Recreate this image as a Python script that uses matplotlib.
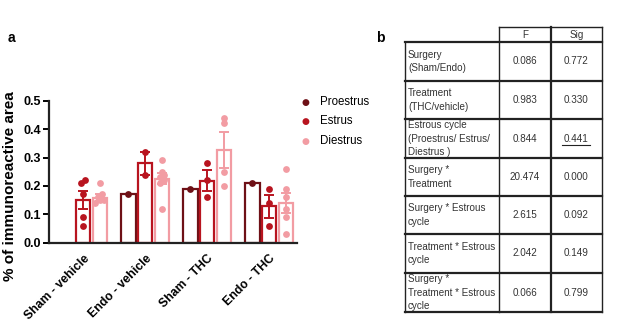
import matplotlib.pyplot as plt
import numpy as np

groups = ["Sham - vehicle", "Endo - vehicle", "Sham - THC", "Endo - THC"]
phases = ["Proestrus", "Estrus", "Diestrus"]
colors = ["#6e1016", "#b8141f", "#f29ca3"]

# bar means / SEM (None = no bar)
proestrus_mean = [None, 0.17, 0.19, 0.21]
estrus_mean = [0.15, 0.28, 0.218, 0.128]
diestrus_mean = [0.158, 0.225, 0.326, 0.139]
proestrus_sem = [None, 0.0, 0.0, 0.0]
estrus_sem = [0.033, 0.04, 0.037, 0.04]
diestrus_sem = [0.012, 0.02, 0.063, 0.035]

proestrus_pts = [[], [0.17], [0.19], [0.21]]
estrus_pts = [[0.22, 0.21, 0.17, 0.09, 0.06], [0.32, 0.24], [0.28, 0.22, 0.16], [0.19, 0.14, 0.06]]
diestrus_pts = [[0.21, 0.17, 0.16, 0.15, 0.15, 0.14],
                [0.29, 0.25, 0.24, 0.23, 0.22, 0.21, 0.12],
                [0.44, 0.42, 0.25, 0.20],
                [0.26, 0.19, 0.16, 0.12, 0.09, 0.03]]

table_rows = ["Surgery\n(Sham/Endo)", "Treatment\n(THC/vehicle)",
              "Estrous cycle\n(Proestrus/ Estrus/\nDiestrus )", "Surgery *\nTreatment",
              "Surgery * Estrous\ncycle", "Treatment * Estrous\ncycle",
              "Surgery *\nTreatment * Estrous\ncycle"]
f_vals = ["0.086", "0.983", "0.844", "20.474", "2.615", "2.042", "0.066"]
sig_vals = ["0.772", "0.330", "0.441", "0.000", "0.092", "0.149", "0.799"]

W, H = 617, 328
fig = plt.figure(figsize=(W / 100, H / 100), dpi=100)
ax = fig.add_axes([49 / W, 1 - 242.7 / H, 248 / W, 142 / H])

means = [proestrus_mean, estrus_mean, diestrus_mean]
sems = [proestrus_sem, estrus_sem, diestrus_sem]
pts = [proestrus_pts, estrus_pts, diestrus_pts]
offsets = [-0.27, 0.0, 0.27]
bw = 0.235


def swarm(vals):
    # small horizontal spread for points with close values
    order = sorted(range(len(vals)), key=lambda k: vals[k])
    off = [0.0] * len(vals)
    i = 0
    while i < len(order):
        j = i
        while j + 1 < len(order) and vals[order[j + 1]] - vals[order[i]] < 0.018:
            j += 1
        n = j - i + 1
        for k in range(n):
            off[order[i + k]] = (k - (n - 1) / 2) * 0.075
        i = j + 1
    return off


for p in range(3):
    for g in range(4):
        m = means[p][g]
        if m is None:
            continue
        x = g + offsets[p]
        ax.bar(x, m, width=bw, facecolor="white", edgecolor=colors[p], linewidth=1.6, zorder=2)
        if sems[p][g] > 0:
            ax.errorbar(x, m, yerr=sems[p][g], color=colors[p], capsize=3.5, capthick=1.4,
                        elinewidth=1.4, zorder=4)
        vals = pts[p][g]
        off = swarm(vals)
        ax.scatter([x + o for o in off], vals, s=24, color=colors[p], zorder=5, linewidths=0)

bold = dict(family="Liberation Sans", fontweight="bold")
ax.set_xlim(-0.55, 3.45)
ax.set_ylim(0, 0.5)
ax.set_yticks([0, 0.1, 0.2, 0.3, 0.4, 0.5])
ax.set_yticklabels(["0.0", "0.1", "0.2", "0.3", "0.4", "0.5"], fontsize=9, **bold)
ax.set_xticks(range(4))
ax.set_xticklabels(groups, rotation=45, ha="right", rotation_mode="anchor", fontsize=8.8, **bold)
ax.tick_params(axis="x", length=0, pad=7)
ax.tick_params(axis="y", width=1.4, length=4, pad=2)
ax.set_ylabel("% of immunoreactive area", fontsize=11, **bold)
ax.yaxis.set_label_coords(-0.128, 0.40)
for s in ["top", "right"]:
    ax.spines[s].set_visible(False)
for s in ["left", "bottom"]:
    ax.spines[s].set_linewidth(1.6)
    ax.spines[s].set_color("#222222")

# legend
for i, ph in enumerate(phases):
    y = 1 - (102 + i * 19.5) / H
    fig.text(305 / W, y, "\u25cf", color=colors[i], fontsize=6.5, ha="center", va="center")
    fig.text(320 / W, y, ph, fontsize=8.3, family="Liberation Sans", ha="left", va="center")

fig.text(8 / W, 1 - 38 / H, "a", fontsize=10, va="center", **bold)
fig.text(376 / W, 1 - 38 / H, "b", fontsize=10, va="center", **bold)

# table b
xs = [405, 499, 551, 602]
ys = [27, 42, 81, 119, 158, 196, 234, 273, 312]
fx = lambda v: v / W
fy = lambda v: 1 - v / H
lk = dict(color="#222222", transform=fig.transFigure)
fig.add_artist(plt.Line2D([fx(xs[1]), fx(xs[3])], [fy(ys[0]), fy(ys[0])], lw=1.0, **lk))
for y in ys[1:]:
    fig.add_artist(plt.Line2D([fx(xs[0]), fx(xs[3])], [fy(y), fy(y)], lw=1.6, **lk))
fig.add_artist(plt.Line2D([fx(xs[0]), fx(xs[0])], [fy(ys[1]), fy(ys[-1])], lw=1.0, **lk))
for x in xs[1:]:
    fig.add_artist(plt.Line2D([fx(x), fx(x)], [fy(ys[0]), fy(ys[-1])], lw=1.6 if x == xs[2] else 1.0, **lk))

tf = dict(fontsize=7.1, family="Liberation Sans", color="#333333")
fig.text(fx((xs[1] + xs[2]) / 2), fy((ys[0] + ys[1]) / 2), "F", ha="center", va="center", **tf)
fig.text(fx((xs[2] + xs[3]) / 2), fy((ys[0] + ys[1]) / 2), "Sig", ha="center", va="center", **tf)
for r in range(len(table_rows)):
    yc = (ys[r + 1] + ys[r + 2]) / 2
    fig.text(fx(xs[0] + 3), fy(yc), table_rows[r], ha="left", va="center", linespacing=1.45, **tf)
    fig.text(fx((xs[1] + xs[2]) / 2), fy(yc), f_vals[r], ha="center", va="center", **tf)
    fig.text(fx((xs[2] + xs[3]) / 2), fy(yc), sig_vals[r], ha="center", va="center", **tf)
    if r == 2:
        fig.add_artist(plt.Line2D([fx(562), fx(590)], [fy(yc + 6), fy(yc + 6)], lw=0.8, **lk))

fig.savefig("out.png", dpi=100)
